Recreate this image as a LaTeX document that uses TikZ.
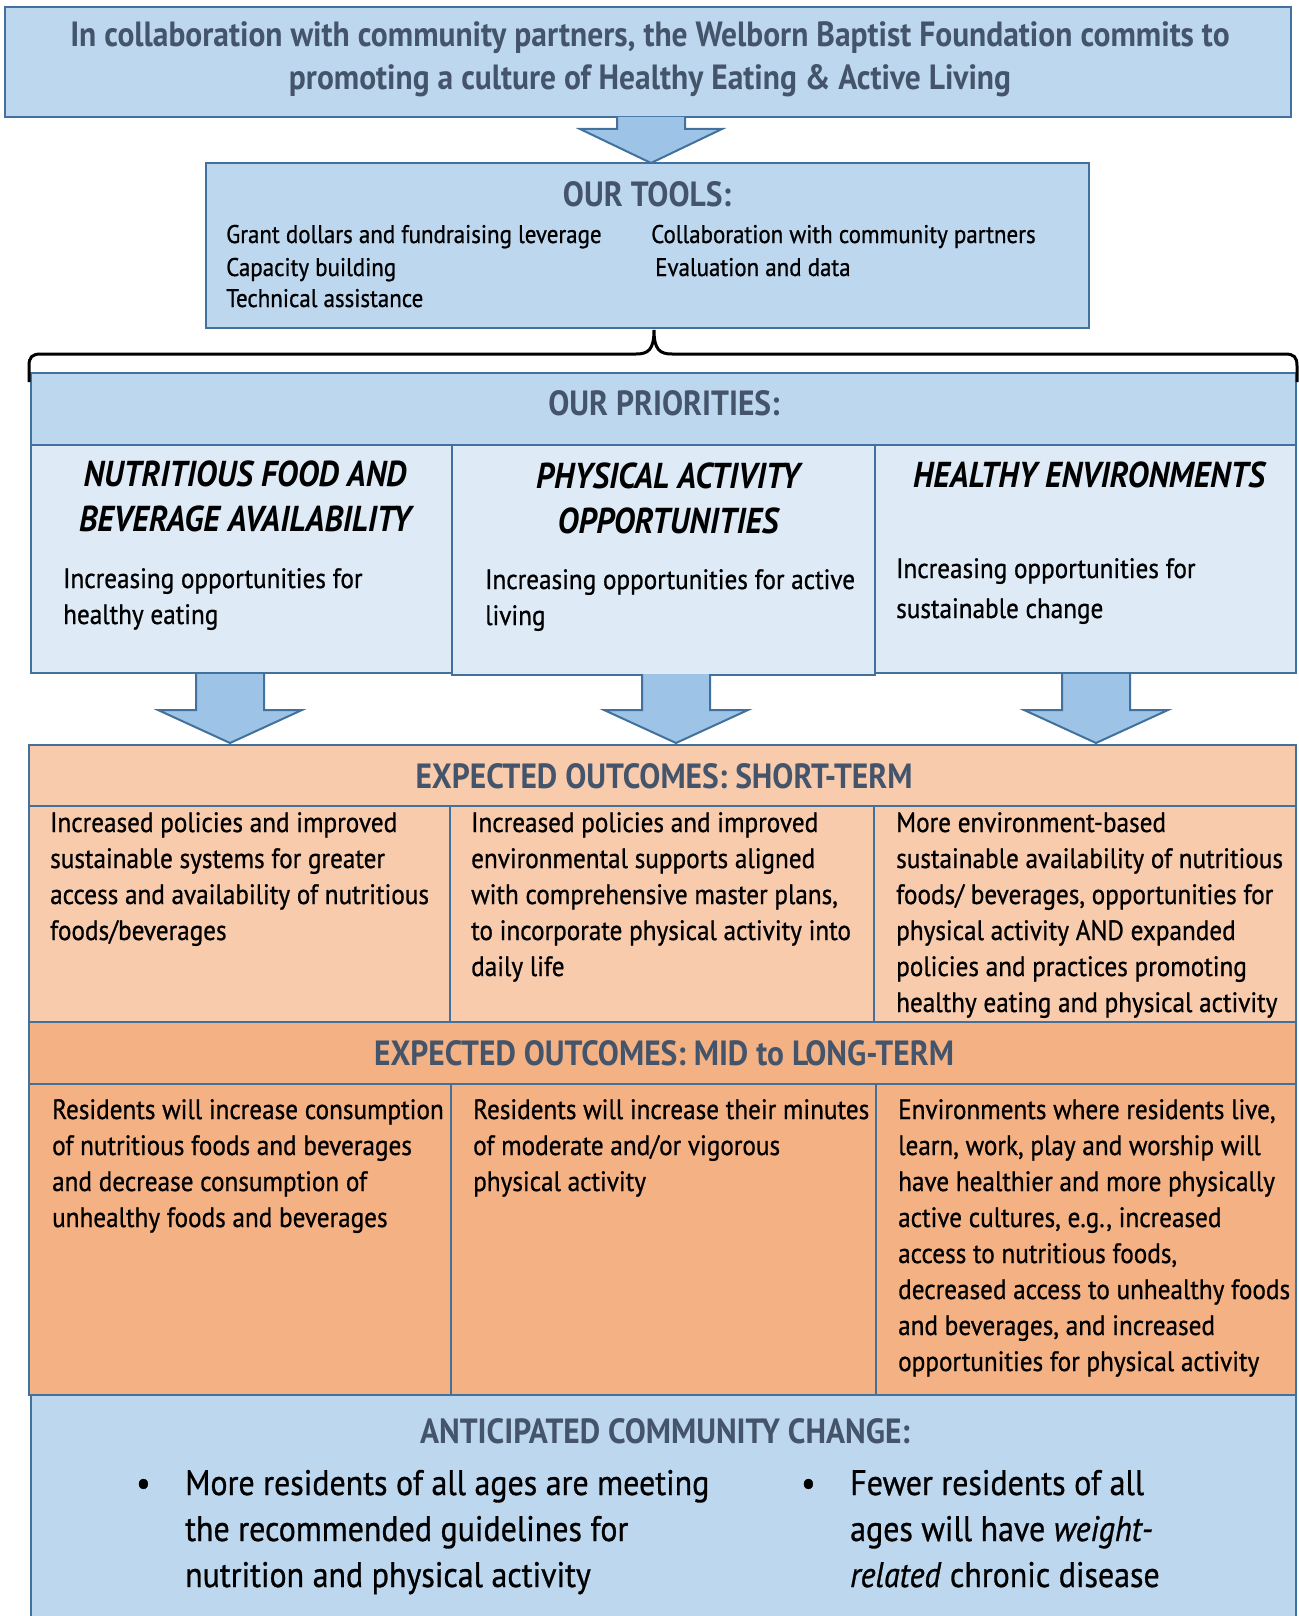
\documentclass[tikz,border=0pt]{standalone}
\usepackage{fontspec}
\newfontfamily\bodyf[FakeStretch=0.90,FakeBold=0.8]{PT Sans}
\newfontfamily\headf[FakeStretch=0.90]{PT Sans}
\definecolor{blueA}{HTML}{BDD7EE}
\definecolor{blueB}{HTML}{DEEBF7}
\definecolor{arrowfill}{HTML}{9DC3E6}
\definecolor{bordercol}{HTML}{41719C}
\definecolor{orA}{HTML}{F8CBAD}
\definecolor{orB}{HTML}{F4B183}
\definecolor{slate}{HTML}{44546A}
\newcommand\txtline[4]{\node[bodytxt] (#1) at (#2,#3) {#4};}
\begin{document}
\begin{tikzpicture}[x=1pt,y=-1pt,
  cellbox/.style={draw=bordercol, line width=2.5pt},
  blockarrow/.style={fill=arrowfill, draw=bordercol, line width=2pt, line join=miter},
  bodytxt/.style={anchor=base west, inner sep=0pt, font=\bodyf\fontsize{28}{34}\selectfont},
  smalltxt/.style={anchor=base west, inner sep=0pt, font=\bodyf\fontsize{25.5}{30}\selectfont},
  titletxt/.style={anchor=base, inner sep=0pt, text=slate, font=\headf\bfseries\fontsize{35}{40}\selectfont},
  toptxt/.style={anchor=base, inner sep=0pt, text=slate, font=\headf\bfseries\fontsize{35}{40}\selectfont},
  headtxt/.style={anchor=base, inner sep=0pt, font=\headf\bfseries\itshape\fontsize{36}{40}\selectfont},
  bullettxt/.style={anchor=base west, inner sep=0pt, font=\bodyf\fontsize{35.5}{44}\selectfont},
  bracestyle/.style={draw=black, line width=3pt}]
\useasboundingbox (0,0) rectangle (1298,1616);

% boxes
\filldraw[cellbox, fill=blueA] (5,7) rectangle (1291,117);
\filldraw[cellbox, fill=blueA] (206,163) rectangle (1089,328);
\filldraw[cellbox, fill=blueA] (31,373) rectangle (1296,445);
\filldraw[cellbox, fill=blueB] (31,445) rectangle (452,673);
\filldraw[cellbox, fill=blueB] (452,445) rectangle (875,675);
\filldraw[cellbox, fill=blueB] (875,445) rectangle (1296,673);
\filldraw[cellbox, fill=orA] (29,745) rectangle (1296,806);
\filldraw[cellbox, fill=orA] (29,806) rectangle (450,1022);
\filldraw[cellbox, fill=orA] (450,806) rectangle (874,1022);
\filldraw[cellbox, fill=orA] (874,806) rectangle (1296,1022);
\filldraw[cellbox, fill=orB] (29,1022) rectangle (1296,1084);
\filldraw[cellbox, fill=orB] (29,1084) rectangle (451,1395);
\filldraw[cellbox, fill=orB] (451,1084) rectangle (876,1395);
\filldraw[cellbox, fill=orB] (876,1084) rectangle (1296,1395);
\filldraw[cellbox, fill=blueA] (31,1395) rectangle (1296,1630);

% block arrows
\filldraw[blockarrow] (617,117) -- (617,129) -- (580,129) -- (651,163) -- (722,129) -- (685,129) -- (685,117);
\foreach \c in {230,676,1096}{
  \filldraw[blockarrow] (\c-34,674) -- (\c-34,710) -- (\c-72,710) -- (\c,743) -- (\c+72,710) -- (\c+34,710) -- (\c+34,674);
}

% brace
\draw[bracestyle] (29,382) -- (29,366) .. controls (29,357) and (32,354) .. (41,354) -- (636,354)
  .. controls (648,354) and (654,350) .. (654,330)
  .. controls (654,350) and (660,354) .. (672,354) -- (1285,354)
  .. controls (1294,354) and (1297,357) .. (1297,366) -- (1297,382);

% top text
\node[toptxt] (top1) at (650,47) {In collaboration with community partners, the Welborn Baptist Foundation commits to};
\node[toptxt] (top2) at (650,90) {promoting a culture of Healthy Eating \& Active Living};

% tools
\node[titletxt] (tools) at (647,207) {OUR TOOLS:};
\node[smalltxt] (t1) at (226,243) {Grant dollars and fundraising leverage};
\node[smalltxt] (t2) at (226,276) {Capacity building};
\node[smalltxt] (t3) at (226,307) {Technical assistance};
\node[smalltxt] (t4) at (651,243) {Collaboration with community partners};
\node[smalltxt] (t5) at (655,276) {Evaluation and data};

% priorities
\node[titletxt] (prio) at (664,415) {OUR PRIORITIES:};
\node[headtxt] (h1a) at (245,486) {NUTRITIOUS FOOD AND};
\node[headtxt] (h1b) at (245,531) {BEVERAGE AVAILABILITY};
\node[headtxt] (h2a) at (668,488) {PHYSICAL ACTIVITY};
\node[headtxt] (h2b) at (668,533) {OPPORTUNITIES};
\node[headtxt] (h3a) at (1089,487) {HEALTHY ENVIRONMENTS};
\txtline{p1a}{63}{588}{Increasing opportunities for}
\txtline{p1b}{63}{624}{healthy eating}
\txtline{p2a}{485}{589}{Increasing opportunities for active}
\txtline{p2b}{485}{625}{living}
\txtline{p3a}{896}{578}{Increasing opportunities for}
\txtline{p3b}{896}{618}{sustainable change}

% short-term
\node[titletxt] (short) at (664,788) {EXPECTED OUTCOMES: SHORT-TERM};
\txtline{s1a}{50}{832}{Increased policies and improved}
\txtline{s1b}{50}{868}{sustainable systems for greater}
\txtline{s1c}{50}{904}{access and availability of nutritious}
\txtline{s1d}{50}{940}{foods/beverages}
\txtline{s2a}{471}{832}{Increased policies and improved}
\txtline{s2b}{471}{868}{environmental supports aligned}
\txtline{s2c}{471}{904}{with comprehensive master plans,}
\txtline{s2d}{471}{940}{to incorporate physical activity into}
\txtline{s2e}{471}{976}{daily life}
\txtline{s3a}{896}{832}{More environment-based}
\txtline{s3b}{896}{868}{sustainable availability of nutritious}
\txtline{s3c}{896}{904}{foods/ beverages, opportunities for}
\txtline{s3d}{896}{940}{physical activity AND expanded}
\txtline{s3e}{896}{976}{policies and practices promoting}
\txtline{s3f}{896}{1012}{healthy eating and physical activity}

% mid-term
\node[titletxt] (mid) at (664,1065) {EXPECTED OUTCOMES: MID to LONG-TERM};
\txtline{m1a}{52}{1119}{Residents will increase consumption}
\txtline{m1b}{52}{1155}{of nutritious foods and beverages}
\txtline{m1c}{52}{1191}{and decrease consumption of}
\txtline{m1d}{52}{1227}{unhealthy foods and beverages}
\txtline{m2a}{473}{1119}{Residents will increase their minutes}
\txtline{m2b}{473}{1155}{of moderate and/or vigorous}
\txtline{m2c}{473}{1191}{physical activity}
\txtline{m3a}{898}{1119}{Environments where residents live,}
\txtline{m3b}{898}{1155}{learn, work, play and worship will}
\txtline{m3c}{898}{1191}{have healthier and more physically}
\txtline{m3d}{898}{1227}{active cultures, e.g., increased}
\txtline{m3e}{898}{1263}{access to nutritious foods,}
\txtline{m3f}{898}{1299}{decreased access to unhealthy foods}
\txtline{m3g}{898}{1335}{and beverages, and increased}
\txtline{m3h}{898}{1371}{opportunities for physical activity}

% anticipated
\node[titletxt] (antic) at (665,1443) {ANTICIPATED COMMUNITY CHANGE:};
\node[bullettxt] (bul1) at (136,1495) {•};
\node[bullettxt] (a1a) at (185,1495) {More residents of all ages are meeting};
\node[bullettxt] (a1b) at (185,1541) {the recommended guidelines for};
\node[bullettxt] (a1c) at (185,1587) {nutrition and physical activity};
\node[bullettxt] (bul2) at (801,1495) {•};
\node[bullettxt] (a2a) at (850,1495) {Fewer residents of all};
\node[bullettxt] (a2b) at (850,1541) {ages will have \textit{weight-}};
\node[bullettxt] (a2c) at (850,1587) {\textit{related} chronic disease};
\end{tikzpicture}
\end{document}
